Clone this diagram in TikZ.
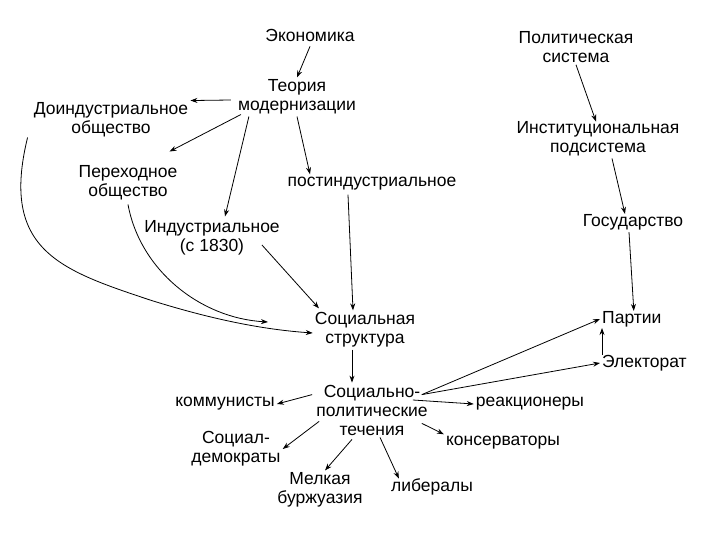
\documentclass[tikz,border=0pt]{standalone}
\usepackage{fontspec}
\setmainfont{Liberation Sans}
\usetikzlibrary{arrows.meta,calc}
\begin{document}
\begin{tikzpicture}[x=1pt,y=-1pt,
  lbl/.style={align=center,inner sep=2pt,font=\fontsize{17.5}{19}\selectfont},
  arr/.style={-{Stealth[length=7pt,width=5pt]},line width=0.8pt}]
\useasboundingbox (0,0) rectangle (720,540);
\node[lbl] (ek) at (310,35) {Экономика};
\node[lbl] (ps) at (576,47) {Политическая\\система};
\node[lbl] (tm) at (297,97) {Теория\\модернизации};
\node[lbl] (di) at (111,120) {Доиндустриальное\\общество};
\node[lbl] (is) at (598,139) {Институциональная\\подсистема};
\node[lbl] (pe) at (128,183) {Переходное\\общество};
\node[lbl] (po) at (372,184) {постиндустриальное};
\node[lbl] (go) at (633,222) {Государство};
\node[lbl] (in) at (212,238) {Индустриальное\\(с 1830)};
\node[lbl] (ss) at (365,330) {Социальная\\структура};
\node[lbl,anchor=west] (pa) at (600,319) {Партии};
\node[lbl,anchor=west] (el) at (600,363) {Электорат};
\node[lbl] (sp) at (372,410) {Социально-\\политические\\течения};
\node[lbl] (ko) at (225,404) {коммунисты};
\node[lbl] (re) at (530,404) {реакционеры};
\node[lbl] (sd) at (236,449) {Социал-\\демократы};
\node[lbl] (kn) at (503,443) {консерваторы};
\node[lbl] (mb) at (320,490) {Мелкая\\буржуазия};
\node[lbl] (li) at (432,487) {либералы};
\coordinate (pend) at (268,322);

\draw[arr] ($(ek.south)+(0,3)$) -- (tm.north);
\draw[arr] (ps.south) -- ($(is.north)+(-2,2)$);
\draw[arr] ($(is.south)+(14,0)$) -- ($(go.north)+(-8,2)$);
\draw[arr] ($(go.south)+(-4,0)$) -- ($(pa.north)+(2,2)$);
\draw[arr] ($(el.north west)+(2,2)$) -- ($(pa.south west)+(2,-1)$);
\draw[arr] ($(tm.west)+(-5,3)$) -- (di.north east);
\draw[arr] ($(tm.south west)+(5,-2)$) -- ($(pe.north east)+(-10,-12)$);
\draw[arr] ($(tm.south west)+(13,0)$) -- ($(in.north)+(13,-2)$);
\draw[arr] ($(tm.south)+(0,0)$) -- ($(po.north)+(-62,-1)$);
\draw[arr] ($(po.south)+(-24,2)$) -- ($(ss.north)+(-12,0)$);
\draw[arr] ($(in.east)+(-20,7)$) -- ($(ss.north)+(-46,-2)$);
\draw[arr] ($(di.south west)+(-4,-2)$) .. controls (0,250) and (60,270) .. (150,300) .. controls (220,322) and (270,330) .. ($(ss.west)+(0,3)$);
\draw[arr] ($(pe.south)+(0,2)$) .. controls (140,270) and (200,318) .. (pend);
\draw[arr] ($(ss.south)+(-13,0)$) -- ($(sp.north)+(-20,0)$);
\draw[arr] ($(sp.north west)+(-2,12)$) -- (ko.east);
\draw[arr] ($(sp.east)+(-17,-10)$) -- (re.west);
\draw[arr] ($(sp.south west)+(5,-16)$) -- (sd.east);
\draw[arr] ($(sp.south east)+(-8,-14)$) -- (kn.north west);
\draw[arr] ($(sp.south)+(-20,2)$) -- ($(mb.north)+(5,0)$);
\draw[arr] ($(sp.south)+(8,0)$) -- ($(li.north west)+(10,2)$);
\draw[arr] ($(sp.north east)+(-8,12)$) -- (pa.west);
\draw[arr] ($(sp.north east)+(-8,12)$) -- (el.west);
\end{tikzpicture}
\end{document}
